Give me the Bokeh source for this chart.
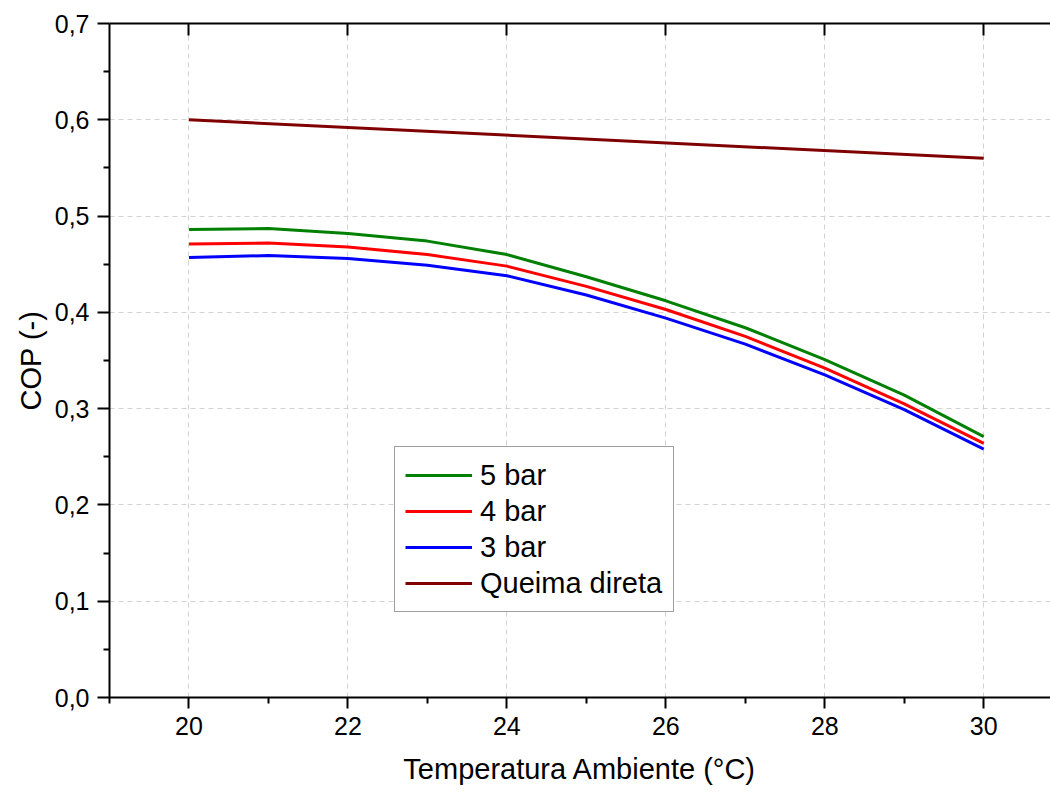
from bokeh.plotting import figure
from bokeh.models import (Range1d, FixedTicker, LinearAxis, CustomJSTickFormatter,
                          Legend, LegendItem, CustomLabelingPolicy)
from bokeh.embed import file_html
from bokeh.resources import INLINE

# ---- data ----
temp = [20, 21, 22, 23, 24, 25, 26, 27, 28, 29, 30]
cop_5bar = [0.486, 0.487, 0.482, 0.474, 0.460, 0.437, 0.412, 0.384, 0.351, 0.314, 0.271]
cop_4bar = [0.471, 0.472, 0.468, 0.460, 0.448, 0.427, 0.403, 0.375, 0.342, 0.305, 0.264]
cop_3bar = [0.457, 0.459, 0.456, 0.449, 0.438, 0.418, 0.394, 0.367, 0.335, 0.299, 0.258]
queima_temp = [20, 30]
cop_queima = [0.600, 0.560]

x_major = [20, 22, 24, 26, 28, 30]
x_minor = [19, 21, 23, 25, 27, 29]
y_major = [0.0, 0.1, 0.2, 0.3, 0.4, 0.5, 0.6, 0.7]
y_minor = [0.05, 0.15, 0.25, 0.35, 0.45, 0.55, 0.65]

series_labels = ["5 bar", "4 bar", "3 bar", "Queima direta"]
series_colors = ["#008000", "#ff0000", "#0000ff", "#800000"]

FONT = "Liberation Sans"

p = figure(width=1050, height=792,
           x_range=Range1d(19, 30.84), y_range=Range1d(0, 0.7),
           output_backend="svg", toolbar_location=None,
           min_border_left=109, min_border_right=0,
           min_border_top=23, min_border_bottom=95,
           x_axis_label="Temperatura Ambiente (°C)", y_axis_label="COP (-)")
p.outline_line_color = None
p.background_fill_color = "white"
p.border_fill_color = "white"

fmt_y = CustomJSTickFormatter(code="return tick.toFixed(1).replace('.', ',');")

xa = p.xaxis[0]
xa.ticker = FixedTicker(ticks=x_major, minor_ticks=x_minor)
ya = p.yaxis[0]
ya.ticker = FixedTicker(ticks=y_major, minor_ticks=y_minor)
ya.formatter = fmt_y

for ax in (xa, ya):
    ax.axis_line_width = 2
    ax.axis_line_color = "black"
    ax.major_tick_line_width = 2
    ax.minor_tick_line_width = 2
    ax.major_tick_line_color = "black"
    ax.minor_tick_line_color = "black"
    ax.major_tick_in = 0
    ax.minor_tick_in = 0
    ax.major_label_text_font = FONT
    ax.major_label_text_font_size = "25px"
    ax.major_label_text_color = "black"
    ax.axis_label_text_font = FONT
    ax.axis_label_text_font_size = "29px"
    ax.axis_label_text_font_style = "normal"
    ax.axis_label_text_color = "black"

xa.major_tick_out = 11
xa.minor_tick_out = 6
xa.major_label_standoff = 8
xa.axis_label_standoff = 15

ya.major_tick_out = 12
ya.minor_tick_out = 6
ya.major_label_standoff = 8
ya.axis_label_standoff = 5

# top frame line with inward major ticks, no labels
top = LinearAxis(ticker=FixedTicker(ticks=x_major, minor_ticks=[]),
                 major_tick_in=12, major_tick_out=0,
                 minor_tick_in=0, minor_tick_out=0,
                 major_label_standoff=0,
                 major_label_policy=CustomLabelingPolicy(
                     code="for (const i of Array.from(indices)) { indices.unset(i) } return indices"),
                 axis_line_width=2, major_tick_line_width=2)
p.add_layout(top, "above")

p.xgrid.ticker = FixedTicker(ticks=x_major)
p.ygrid.ticker = FixedTicker(ticks=y_major)
for g in (p.xgrid[0], p.ygrid[0]):
    g.grid_line_color = "#d2d2d2"
    g.grid_line_dash = "5 4"
    g.grid_line_width = 1

r5 = p.line(temp, cop_5bar, line_color=series_colors[0], line_width=3)
r4 = p.line(temp, cop_4bar, line_color=series_colors[1], line_width=3)
r3 = p.line(temp, cop_3bar, line_color=series_colors[2], line_width=3)
rq = p.line(queima_temp, cop_queima, line_color=series_colors[3], line_width=3)

legend = Legend(items=[LegendItem(label=series_labels[i], renderers=[r])
                       for i, r in enumerate([r5, r4, r3, rq])],
                location=(285, 85))
legend.margin = 0
legend.padding = 10
legend.spacing = 0
legend.glyph_width = 67
legend.glyph_height = 36
legend.label_height = 36
legend.label_width = 183
legend.label_standoff = 8
legend.label_text_font = FONT
legend.label_text_font_size = "29px"
legend.label_text_color = "black"
legend.border_line_color = "#404040"
legend.border_line_width = 1
legend.background_fill_alpha = 1
legend.background_fill_color = "white"
p.add_layout(legend, "center")

open("out.html", "w").write(file_html(p, INLINE))
